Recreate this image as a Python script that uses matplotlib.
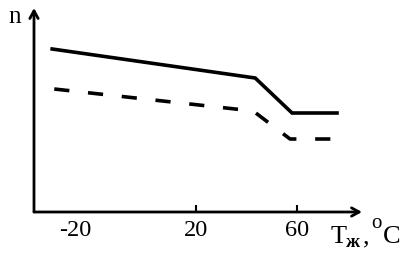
import numpy as np
import matplotlib
matplotlib.use('Agg')
from matplotlib import pyplot as plt

plt.rcParams['font.family'] = ['Liberation Serif', 'DejaVu Serif']

# temperature, deg C (sketch axis is not linear, see scale below)
t_solid = [-27.6, 43.4, 58.0, 75.8]
n_solid = [16.3, 13.4, 9.9, 9.9]
t_dash = [-26.9, 42.6, 57.2, 75.8]
n_dash = [12.3, 10.1, 7.3, 7.3]
x_ticks = [-20, 20, 60]
x_labels = ['-20', '20', '60']

# the hand drawn axis uses a wider step left of 20
k1, k2 = 3.025, 2.525


def fwd(t):
    t = np.asarray(t, dtype=float)
    return np.where(t < 20, (t - 20) * k1, (t - 20) * k2)


def inv(u):
    u = np.asarray(u, dtype=float)
    return np.where(u < 0, u / k1 + 20, u / k2 + 20)


fig = plt.figure(figsize=(4, 2.56), dpi=100)
ax = fig.add_axes([34 / 400, 1 - 212 / 256, (362 - 34) / 400, (212 - 8) / 256])
ax.set_xscale('function', functions=(fwd, inv))
ax.set_xlim(-33.6, 85.7)
ax.set_ylim(0, 20.4)

ax.plot(t_solid, n_solid, color='black', lw=2.6, solid_joinstyle='miter')
ax.plot(t_dash, n_dash, color='black', lw=2.6, dashes=(4.2, 5.2))

for s in ['top', 'right', 'left', 'bottom']:
    ax.spines[s].set_visible(False)

arrow = dict(arrowstyle='->,head_length=0.55,head_width=0.3', lw=2.0, color='black',
             shrinkA=0, shrinkB=0)
ax.annotate('', xy=(1, 0), xytext=(0, 0), xycoords='axes fraction', arrowprops=arrow)
ax.annotate('', xy=(0, 1), xytext=(0, 0), xycoords='axes fraction', arrowprops=arrow)

ax.set_yticks([])
ax.set_xticks(x_ticks)
ax.set_xticklabels(x_labels)
ax.tick_params(axis='x', direction='in', length=5, width=1.5, pad=6, labelsize=17.5)
ax.xaxis.get_major_ticks()[0].tick1line.set_visible(False)

fig.text(15 / 400, 1 - 23 / 256, 'n', ha='center', va='baseline', fontsize=18)

# axis label T_ж, °C put together from pieces like in the sketch
def lab(x, y, s, size, **kw):
    fig.text(x / 400, 1 - y / 256, s, ha='left', va='baseline', fontsize=size, **kw)


lab(331, 243, 'T', 19)
lab(346, 247, 'ж', 14, fontweight='bold')
lab(363, 243, ',', 19)
lab(371, 228, 'o', 15)
lab(383, 243, 'C', 19)

fig.savefig('out.png', dpi=100)
